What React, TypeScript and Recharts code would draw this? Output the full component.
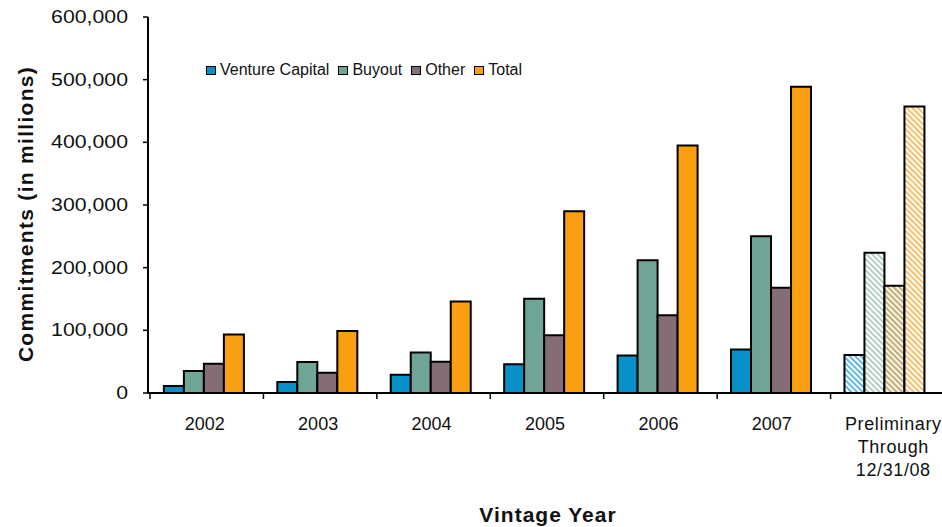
import React from 'react';
import { BarChart, Bar, Cell, XAxis, YAxis, Legend } from 'recharts';

const years = ['2002', '2003', '2004', '2005', '2006', '2007', 'Preliminary|Through|12/31/08'];
const venture = [11000, 17500, 29000, 46000, 60000, 69500, 60500];
const buyout = [35000, 49500, 64500, 150500, 212000, 250000, 224000];
const other = [46500, 32500, 50000, 92000, 124000, 168000, 171000];
const total = [93500, 99000, 146000, 290000, 395000, 488500, 457000];
const yTicks = [0, 100000, 200000, 300000, 400000, 500000, 600000];

const data = years.map((year, i) => ({
  year,
  venture: venture[i],
  buyout: buyout[i],
  other: other[i],
  total: total[i],
}));

const FONT = '"Liberation Sans", Arial, sans-serif';

const series = [
  { key: 'venture', name: 'Venture Capital', color: '#0890c8', stripe: '#3aaadf', bg: '#ffffff' },
  { key: 'buyout', name: 'Buyout', color: '#6fa596', stripe: '#a2c4ba', bg: '#ffffff' },
  { key: 'other', name: 'Other', color: '#846d77', stripe: '#ab9a92', bg: '#fff6c4' },
  { key: 'total', name: 'Total', color: '#fa9e12', stripe: '#fbb040', bg: '#ffffff' },
];

const BAND = 794 / 7;

const XTick = (props: any) => {
  const { x, y, payload } = props;
  const lines = String(payload.value).split('|');
  const bx = x - BAND / 2 + 2;
  return (
    <g>
      <line x1={bx} y1={y} x2={bx} y2={y + 6} stroke="#000" strokeWidth={1.5} />
      <text x={x} y={y + 37} textAnchor="middle" fontFamily={FONT} fontSize={18} fill="#111">
        {lines.map((l, i) => (
          <tspan key={i} x={x + (lines.length > 1 ? 8 : 0)} dy={i === 0 ? 0 : 23} letterSpacing={lines.length > 1 ? 0.6 : 0}>
            {l}
          </tspan>
        ))}
      </text>
    </g>
  );
};

const YTick = (props: any) => {
  const { x, y, payload } = props;
  return (
    <text
      transform={`translate(${x},${y + 6}) scale(1.12,1)`}
      textAnchor="end"
      fontFamily={FONT}
      fontSize={19}
      fill="#111"
    >
      {Number(payload.value).toLocaleString('en-US')}
    </text>
  );
};

const LegendContent = () => (
  <div style={{ display: 'flex', alignItems: 'center', fontFamily: FONT, fontSize: 16, color: '#111', whiteSpace: 'nowrap' }}>
    {series.map((s) => (
      <div key={s.key} style={{ display: 'flex', alignItems: 'center', marginRight: 9 }}>
        <span
          style={{
            display: 'inline-block',
            width: 8,
            height: 7,
            background: s.color,
            border: '1px solid #000',
            marginRight: 4,
          }}
        />
        <span>{s.name}</span>
      </div>
    ))}
  </div>
);

export default function App() {
  const last = years.length - 1;
  return (
    <div style={{ position: 'fixed', left: 0, top: 0, background: '#fff' }}>
      <BarChart
        width={942}
        height={527}
        data={data}
        margin={{ top: 17, right: 0, left: 0, bottom: 0 }}
        barCategoryGap="14%"
        barGap={0}
      >
        <defs>
          {series.map((s) => (
            <pattern
              key={s.key}
              id={`hatch-${s.key}`}
              patternUnits="userSpaceOnUse"
              width={4}
              height={4}
              patternTransform="rotate(-45)"
            >
              <rect x={0} y={0} width={4} height={4} fill={s.bg} />
              <rect x={0} y={0} width={1.6} height={4} fill={s.stripe} />
            </pattern>
          ))}
        </defs>
        <XAxis
          dataKey="year"
          height={134}
          interval={0}
          tickLine={false}
          tickSize={0}
          tickMargin={0}
          axisLine={{ stroke: '#000', strokeWidth: 2 }}
          tick={<XTick />}
          label={{
            content: () => (
              <text x={548} y={522} textAnchor="middle" fontFamily={FONT} fontSize={21} fontWeight="bold" letterSpacing={1} fill="#111">
                Vintage Year
              </text>
            ),
          }}
        />
        <YAxis
          width={148}
          domain={[0, 600000]}
          ticks={yTicks}
          interval={0}
          tickSize={5}
          tickMargin={15}
          tickLine={{ stroke: '#000', strokeWidth: 1.5 }}
          axisLine={{ stroke: '#000', strokeWidth: 2 }}
          tick={<YTick />}
          label={{
            content: () => (
              <text
                transform="translate(33,214) rotate(-90)"
                textAnchor="middle"
                fontFamily={FONT}
                fontSize={21}
                fontWeight="bold"
                letterSpacing={1.3}
                fill="#111"
              >
                Commitments (in millions)
              </text>
            ),
          }}
        />
        <Legend
          content={<LegendContent />}
          wrapperStyle={{ position: 'absolute', top: 61, left: 206, width: 'auto', height: 0, overflow: 'visible' }}
        />
        {series.map((s) => (
          <Bar
            key={s.key}
            dataKey={s.key}
            name={s.name}
            fill={s.color}
            stroke="#000"
            strokeWidth={2}
            isAnimationActive={false}
          >
            {data.map((_, i) => (
              <Cell key={i} fill={i === last ? `url(#hatch-${s.key})` : s.color} />
            ))}
          </Bar>
        ))}
      </BarChart>
    </div>
  );
}
